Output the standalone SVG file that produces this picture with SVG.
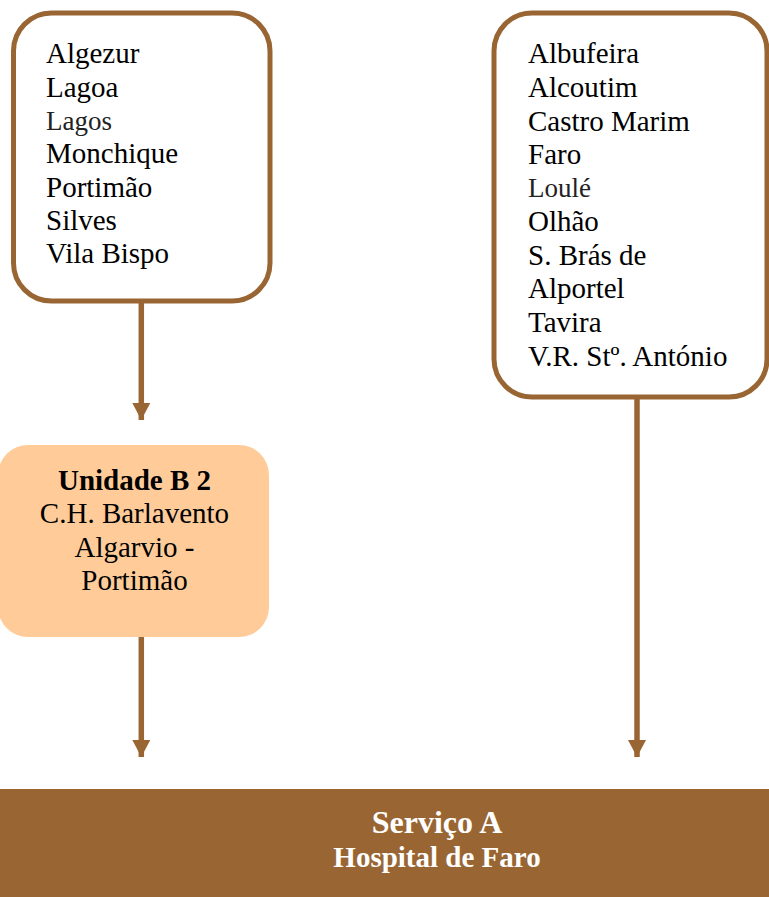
<svg xmlns="http://www.w3.org/2000/svg" width="769" height="897" viewBox="0 0 769 897">
<style>
.box{fill:#ffffff;stroke:#996633;stroke-width:5}
.t{font-family:"Liberation Serif","Times New Roman",serif;font-size:29px;fill:#000}
.soft{font-size:27px;fill:#222}
.c{text-anchor:middle}
.b{font-weight:bold}
.w{fill:#ffffff}
.conn{stroke:#996633;stroke-width:5.5;fill:none}
</style>
<defs>
<marker id="ah" markerUnits="userSpaceOnUse" markerWidth="18" markerHeight="18" refX="17" refY="9" orient="auto">
<path d="M0,0 L17,9 L0,18 Z" fill="#996633"/>
</marker>
</defs>
<g id="west">
<rect class="box" x="13.5" y="13" width="256.5" height="288" rx="38"/>
<text class="t" x="46" y="63">Algezur</text>
<text class="t" x="46" y="96.5">Lagoa</text>
<text class="t soft" x="46" y="129.5">Lagos</text>
<text class="t" x="46" y="163">Monchique</text>
<text class="t" x="46" y="196.5">Portimão</text>
<text class="t" x="46" y="230">Silves</text>
<text class="t" x="46" y="263">Vila Bispo</text>
</g>
<g id="east">
<rect class="box" x="494" y="13" width="273" height="384" rx="38"/>
<text class="t" x="528" y="63">Albufeira</text>
<text class="t" x="528" y="97">Alcoutim</text>
<text class="t" x="528" y="131">Castro Marim</text>
<text class="t" x="528" y="164">Faro</text>
<text class="t soft" x="528" y="197">Loulé</text>
<text class="t" x="528" y="231">Olhão</text>
<text class="t" x="528" y="265">S. Brás de</text>
<text class="t" x="528" y="298">Alportel</text>
<text class="t" x="528" y="332">Tavira</text>
<text class="t" x="528" y="366">V.R. Stº. António</text>
</g>
<g id="unidadeB2">
<rect x="-2" y="445" width="271" height="192" rx="30" fill="#ffcc99"/>
<text class="t c b" x="134.5" y="490">Unidade B 2</text>
<text class="t c" x="134.5" y="523">C.H. Barlavento</text>
<text class="t c" x="134.5" y="557">Algarvio -</text>
<text class="t c" x="134.5" y="590">Portimão</text>
</g>
<g id="servicoA">
<rect x="0" y="789" width="769" height="108" fill="#996633"/>
<text class="t c b w" x="437" y="833" style="font-size:32px">Serviço A</text>
<text class="t c b w" x="437" y="867" style="font-size:29px">Hospital de Faro</text>
</g>
<g id="connectors">
<line class="conn" x1="141.3" y1="303" x2="141.3" y2="420" marker-end="url(#ah)"/>
<line class="conn" x1="141.3" y1="637" x2="141.3" y2="757" marker-end="url(#ah)"/>
<line class="conn" x1="637" y1="399" x2="637" y2="757" marker-end="url(#ah)"/>
</g>
</svg>
